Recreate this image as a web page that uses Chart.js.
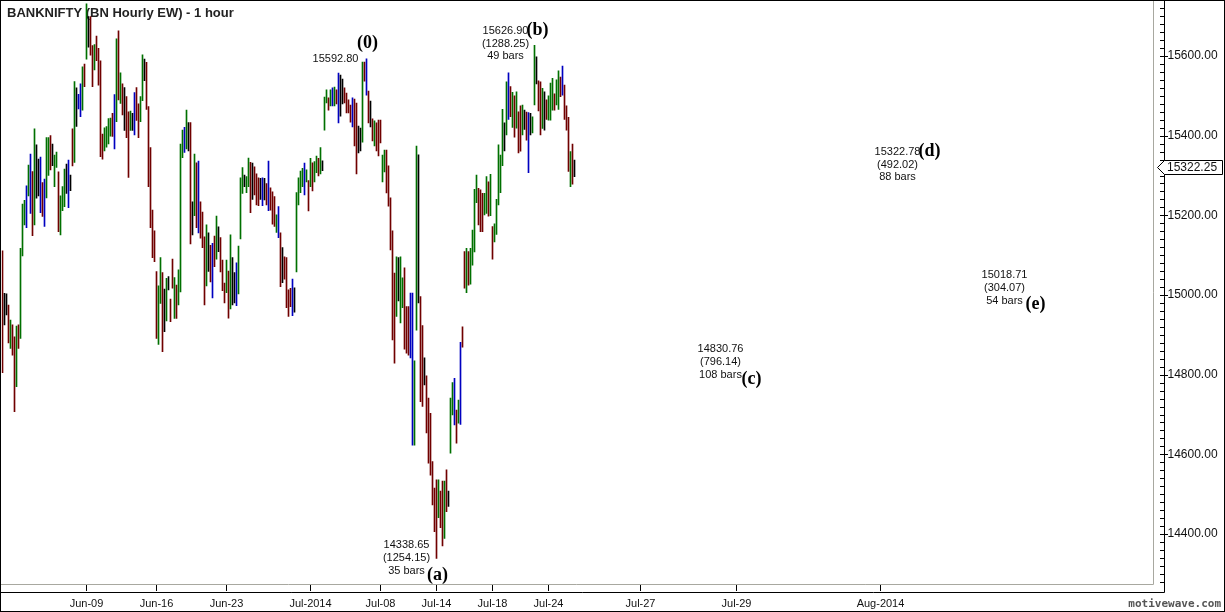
<!DOCTYPE html>
<html><head><meta charset="utf-8">
<script src="https://cdn.jsdelivr.net/npm/chart.js@4.4.1/dist/chart.umd.min.js"></script>
<style>html,body{margin:0;padding:0;background:#fff;overflow:hidden;} canvas{display:block;}</style>
</head><body>
<canvas id="c" width="1225" height="612"></canvas>
<script>
// ---- data (hourly bars, high / low) ----
const barHigh = [
15111,15004,15003,14975,14937,14925,14895,14922,14925,15117,
15228,15238,15274,15326,15354,15310,15417,15377,15341,15346,
15282,15291,15395,15395,15400,15379,15351,15359,15309,15249,
15272,15316,15329,15339,15301,15417,15536,15520,15504,15530,
15573,15580,15731,15699,15699,15626,15629,15650,15619,15588,
15404,15420,15423,15443,15444,15456,15503,15643,15663,15558,
15530,15521,15498,15460,15462,15456,15508,15521,15480,15498,
15603,15592,15584,15473,15370,15213,15161,15059,15023,15094,
15056,15015,15042,15046,14990,15090,15044,15025,15063,15379,
15414,15421,15464,15433,15433,15234,15354,15332,15336,15234,
15208,15146,15176,15156,15125,15130,15148,15198,15171,15144,
15088,15030,15088,15060,15151,15094,15056,15081,15123,15294,
15320,15301,15297,15344,15333,15331,15322,15304,15294,15293,
15294,15293,15280,15336,15269,15259,15247,15201,15222,15156,
15119,15096,15094,15013,15017,15040,15018,15257,15294,15311,
15318,15331,15314,15287,15343,15332,15335,15349,15343,15370,
15337,15497,15515,15495,15515,15520,15522,15515,15557,15552,
15542,15520,15507,15490,15477,15495,15492,15482,15424,15419,
15585,15585,15592.8,15512,15487,15442,15437,15432,15439,15439,
15351,15364,15364,15324,15244,15161,15055,15096,15094,15096,
15043,15068,14971,14971,15005,15005,14835,15374,15352,14996,
14923,14842,14797,14741,14703,14582,14515,14536,14536,14508,
14533,14533,14561,14508,14741,14780,14791,14711,14736,14881,
14920,15109,15117,15109,15117,15163,15265,15301,15268,15264,
15255,15255,15297,15284,15303,15172,15179,15240,15377,15351,
15466,15432,15535,15558,15523,15509,15500,15510,15460,15475,
15477,15464,15459,15458,15456,15447,15626.9,15598,15538,15535,
15519,15510,15490,15500,15532,15544,15505,15540,15563,15547,
15575,15527,15475,15446,15360,15379,15339
];
const barLow = [
14805,14925,14950,14880,14866,14849,14707,14770,14866,14891,
15098,15176,15169,15249,15205,15149,15176,15243,15249,15207,
15197,15172,15244,15300,15314,15325,15272,15320,15159,15151,
15212,15222,15255,15219,15262,15324,15333,15423,15467,15448,
15464,15523,15592,15622,15602,15523,15565,15588,15527,15347,
15341,15362,15371,15379,15399,15398,15367,15435,15490,15481,
15452,15413,15395,15295,15413,15413,15402,15438,15395,15435,
15488,15538,15466,15272,15169,15094,15084,14891,14876,14979,
14858,14908,14935,15013,14933,15017,14941,14941,14975,15008,
15345,15358,15367,15362,15128,15151,15199,15169,15156,15143,
15119,14975,15023,15059,15033,14993,15071,15090,15109,15058,
15011,14980,15006,14942,14965,14975,14980,14973,15003,15141,
15255,15272,15257,15272,15207,15240,15251,15226,15224,15240,
15224,15239,15226,15212,15213,15178,15172,15157,15144,15021,
15031,15040,14968,14946,14971,14948,14957,15058,15226,15257,
15272,15251,15284,15211,15272,15261,15284,15307,15299,15304,
15312,15414,15482,15464,15475,15475,15475,15480,15432,15449,
15480,15482,15457,15457,15434,15422,15374,15304,15357,15362,
15384,15537,15502,15432,15422,15387,15374,15362,15349,15382,
15284,15309,15256,15223,15113,14887,14829,14946,14985,14930,
14968,14864,14854,14849,14842,14623,14623,14912,14980,14732,
14720,14774,14654,14578,14548,14473,14406,14338.65,14441,14416,
14370,14389,14456,14469,14603,14699,14674,14628,14678,14675,
14869,15017,15006,15025,15027,15075,15108,15232,15176,15159,
15159,15201,15205,15198,15199,15090,15133,15152,15226,15257,
15325,15362,15402,15441,15448,15421,15396,15419,15357,15361,
15402,15416,15389,15307,15402,15407,15477,15530,15462,15402,
15418,15414,15441,15439,15439,15464,15464,15477,15466,15498,
15502,15441,15414,15310,15272,15278,15297
];
// bar colour codes: g green, r red, b blue, k black
const barColorCodes =
 "rkkrgrrgrg" + "ggbgbrgkkb" + "rbggrkggrg" + "ggkbkrgkbb" + "grgkrrgrrr" +
 "rggggrbgrg" + "rkrrgkbrrg" + "gkrrrrrrgg" + "rkgkrrgrgg" + "gbgkrkgrbr" +
 "rrgkrbrgkr" + "rrgrgkkbgg" + "gkggrkrrrk" + "bkrbrrrgbr" + "krrrrbkggg" +
 "gbgrgrggrg" + "kggrgbgrbk" + "krrrrbrrkk" + "grbrkrgrrr" + "ggrrrrrgkg" +
 "grrrbbggkr" + "rkrrrrrrgr" + "rgrkggbrgb" + "rrgrggggrr" + "rggrgrgggg" +
 "gkgbrgrgrr" + "gkrbkggkrr" + "gkrgggrggr" + "brrrgrk";

const tickIndex = [42, 77, 112, 154, 189, 217, 245, 273, 319, 367, 439];
const tickText  = ['Jun-09','Jun-16','Jun-23','Jul-2014','Jul-08','Jul-14','Jul-18','Jul-24','Jul-27','Jul-29','Aug-2014'];
const yTicks = [14400, 14600, 14800, 15000, 15200, 15400, 15600];
const lastPrice = 15322.25;
const slotCount = 576;

const waveName  = ['(0)', '(a)', '(b)', '(c)', '(d)', '(e)'];
const waveIndex = [182, 217, 266, 374, 462, 516];
const wavePrice = [15592.80, 14338.65, 15626.90, 14830.76, 15322.78, 15018.71];
const waveMove  = [null, 1254.15, 1288.25, 796.14, 492.02, 304.07];
const waveBars  = [null, 35, 49, 108, 88, 54];
const waveKind  = ['top', 'low', 'high', 'low', 'high', 'low'];

// ---- build chart ----
const palette = {g:'#007000', r:'#700000', b:'#0000c0', k:'#000000'};
const labels = Array.from({length: slotCount}, (_, i) => {
  const j = tickIndex.indexOf(i); return j >= 0 ? tickText[j] : '';
});
const ohlc = barHigh.map((h, i) => [barLow[i], h]);
const colors = barColorCodes.split('').map(c => palette[c]);

const SANS = "'Liberation Sans', Arial, sans-serif";

const decor = {
  id: 'decor',
  beforeDatasetsDraw(chart) {
    const ctx = chart.ctx;
    ctx.save();
    ctx.font = "bold 13px " + SANS;
    ctx.fillStyle = '#222';
    ctx.textBaseline = 'alphabetic';
    ctx.textAlign = 'left';
    ctx.fillText('BANKNIFTY (BN Hourly EW) - 1 hour', 7, 17);
    ctx.restore();
  },
  afterDraw(chart) {
    const ctx = chart.ctx, xs = chart.scales.x, ys = chart.scales.y;
    ctx.save();
    ctx.lineWidth = 1;
    ctx.strokeStyle = '#a8a8a0';
    ctx.beginPath();
    ctx.moveTo(0, 584.5); ctx.lineTo(1153.5, 584.5);
    ctx.moveTo(1153.5, 0); ctx.lineTo(1153.5, 584.5);
    ctx.stroke();
    ctx.strokeStyle = '#000';
    ctx.beginPath();
    ctx.moveTo(0, 592.5); ctx.lineTo(1164.5, 592.5);
    ctx.moveTo(1164.5, 0); ctx.lineTo(1164.5, 592.5);
    ctx.stroke();
    ctx.beginPath();
    for (let v = 14280; v <= 15740; v += 20) {
      const py = Math.round(ys.getPixelForValue(v)) + 0.5;
      if (py < 1 || py > 584) continue;
      if (v % 200 === 0) { ctx.moveTo(1160, py); ctx.lineTo(1168, py); }
      else { ctx.moveTo(1160, py); ctx.lineTo(1164, py); }
    }
    ctx.stroke();
    ctx.beginPath();
    tickIndex.forEach(i => {
      const px = Math.round(xs.getPixelForValue(i)) - 0.5;
      ctx.moveTo(px, 585); ctx.lineTo(px, 591);
    });
    ctx.stroke();
    ctx.strokeRect(0.5, 0.5, 1224, 611);

    const lp = Math.round(ys.getPixelForValue(lastPrice)) + 0.5;
    ctx.beginPath();
    ctx.moveTo(1157.5, lp); ctx.lineTo(1164.5, lp - 7); ctx.lineTo(1222.5, lp - 7);
    ctx.lineTo(1222.5, lp + 7); ctx.lineTo(1164.5, lp + 7); ctx.closePath();
    ctx.fillStyle = '#fff'; ctx.fill(); ctx.stroke();
    ctx.fillStyle = '#111'; ctx.font = "12px " + SANS;
    ctx.textAlign = 'left'; ctx.textBaseline = 'middle';
    ctx.fillText(lastPrice.toFixed(2), 1167, lp + 0.5);

    for (let i = 0; i < waveName.length; i++) {
      const px = xs.getPixelForValue(waveIndex[i]);
      const py = ys.getPixelForValue(wavePrice[i]);
      ctx.fillStyle = '#111';
      ctx.textBaseline = 'middle';
      ctx.textAlign = 'center';
      ctx.font = "11px " + SANS;
      const lines = [wavePrice[i].toFixed(2)];
      if (waveMove[i] !== null) { lines.push('(' + waveMove[i].toFixed(2) + ')'); lines.push(waveBars[i] + ' bars'); }
      let letterX, letterY;
      if (waveKind[i] === 'top') {
        ctx.fillText(lines[0], px - 31, py);
        letterX = px + 1; letterY = py - 16;
      } else if (waveKind[i] === 'low') {
        [-13, 0, 13].forEach((d, j) => ctx.fillText(lines[j], px - 30, py + d));
        letterX = px + 1; letterY = py + 17;
      } else {
        [-14, -1.5, 11].forEach((d, j) => ctx.fillText(lines[j], px - 29, py + d));
        letterX = px + 3; letterY = py - 15;
      }
      ctx.font = "bold 18px 'Liberation Serif', 'Times New Roman', serif";
      ctx.fillStyle = '#000';
      ctx.fillText(waveName[i], letterX, letterY);
    }

    ctx.font = "bold 11px 'DejaVu Sans Mono', monospace";
    ctx.fillStyle = '#555';
    ctx.textAlign = 'right'; ctx.textBaseline = 'middle';
    ctx.fillText('motivewave.com', 1221, 604);
    ctx.restore();
  }
};

new Chart(document.getElementById('c'), {
  type: 'bar',
  data: {
    labels: labels,
    datasets: [{ data: ohlc, backgroundColor: colors, borderWidth: 0, barThickness: 1, grouped: false }]
  },
  options: {
    responsive: false, animation: false, devicePixelRatio: 1,
    layout: { padding: { left: 1.5, top: 1, right: 0, bottom: 0 } },
    plugins: { legend: { display: false }, tooltip: { enabled: false }, title: { display: false } },
    scales: {
      x: {
        type: 'category', offset: true,
        grid: { display: false, drawTicks: false }, border: { display: false },
        ticks: {
          autoSkip: false, maxRotation: 0, minRotation: 0, padding: 13,
          font: { size: 11, family: SANS }, color: '#111',
          callback: (v, i) => labels[i] ? labels[i] : null
        },
        afterFit: s => { s.height = 28; s.paddingLeft = 0; s.paddingRight = 0; }
      },
      y: {
        position: 'right', min: 14274.5, max: 15738.1,
        grid: { display: false, drawTicks: false }, border: { display: false },
        afterBuildTicks: s => { s.ticks = yTicks.map(v => ({ value: v })); },
        ticks: { padding: 14, font: { size: 12, family: SANS }, color: '#111', callback: v => Number(v).toFixed(2) },
        afterFit: s => { s.width = 71.5; s.paddingTop = 0; s.paddingBottom = 0; }
      }
    }
  },
  plugins: [decor]
});
</script>
</body></html>
